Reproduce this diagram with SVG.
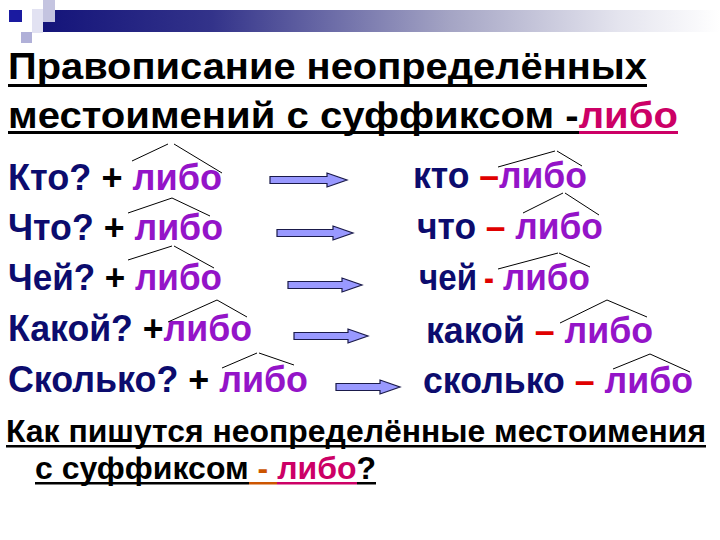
<svg xmlns="http://www.w3.org/2000/svg" width="720" height="540" viewBox="0 0 720 540">
<defs>
<linearGradient id="bar" x1="0" y1="0" x2="1" y2="0">
<stop offset="0" stop-color="#14147a"/>
<stop offset="0.25" stop-color="#33338a"/>
<stop offset="0.6" stop-color="#a4a4c4"/>
<stop offset="0.85" stop-color="#e4e4ee"/>
<stop offset="1" stop-color="#ffffff"/>
</linearGradient>
<style>
.t{font-family:"Liberation Sans",Arial,sans-serif;font-weight:bold}
.row{font-size:37px}
.nv{fill:#0c0c6e}
.pl{fill:#9414c8}
.rd{fill:#e00000}
.bk{fill:#000}
.hat{fill:none;stroke:#000;stroke-width:1}
.arr{fill:#9999ff;stroke:#1a1a4a;stroke-width:1.2}
</style>
</defs>
<rect width="720" height="540" fill="#fff"/>
<g id="decor">
<rect x="43" y="10" width="677" height="22" fill="url(#bar)"/>
<rect x="43" y="0" width="12" height="22" fill="#c4c4e0"/>
<rect x="32" y="9" width="11" height="24" fill="#e2e2f2"/>
<rect x="21" y="32" width="11" height="11" fill="#b0b0d8"/>
<rect x="9" y="10" width="13" height="12" fill="#1a1aa0"/>
</g>
<g id="title">
<text class="t" x="8" y="79" font-size="37" textLength="639" lengthAdjust="spacingAndGlyphs">Правописание неопределённых</text>
<rect x="8" y="84" width="639" height="3" fill="#000"/>
<text class="t" x="8" y="128" font-size="37" textLength="670" lengthAdjust="spacingAndGlyphs">местоимений с суффиксом -<tspan fill="#cc0066">либо</tspan></text>
<rect x="8" y="131" width="571" height="3" fill="#000"/>
<rect x="579" y="131" width="99" height="3" fill="#cc0066"/>
</g>
<g id="left-kto"><text class="t row" x="8" y="190" textLength="214" lengthAdjust="spacingAndGlyphs"><tspan class="nv">Кто?</tspan> <tspan class="bk">+</tspan> <tspan class="pl">либо</tspan></text>
<polyline class="hat" points="132,161 168,144"/><polyline class="hat" points="174,144 222,173"/></g>
<g id="left-chto"><text class="t row" x="8" y="240" textLength="215" lengthAdjust="spacingAndGlyphs"><tspan class="nv">Что?</tspan> <tspan class="bk">+</tspan> <tspan class="pl">либо</tspan></text>
<polyline class="hat" points="128,213 172,198 210,216"/></g>
<g id="left-chey"><text class="t row" x="8" y="290" textLength="214" lengthAdjust="spacingAndGlyphs"><tspan class="nv">Чей?</tspan> <tspan class="bk">+</tspan> <tspan class="pl">либо</tspan></text>
<polyline class="hat" points="128,260 172,246"/><polyline class="hat" points="174,246 214,268"/></g>
<g id="left-kakoy"><text class="t row" x="8" y="341" textLength="244" lengthAdjust="spacingAndGlyphs"><tspan class="nv">Какой?</tspan> <tspan class="bk">+</tspan><tspan class="pl">либо</tspan></text>
<polyline class="hat" points="168,322 217,300 247,317"/></g>
<g id="left-skolko"><text class="t row" x="8" y="392" textLength="300" lengthAdjust="spacingAndGlyphs"><tspan class="nv">Сколько?</tspan> <tspan class="bk">+</tspan> <tspan class="pl">либо</tspan></text>
<polyline class="hat" points="222,368 257,353"/><polyline class="hat" points="259,353 294,365"/></g>
<g id="connectors">
<path class="arr" d="M270,176.5 H327 V173 L347,180 L327,187 V183.5 H270 Z"/>
<path class="arr" d="M277,229.5 H333 V226 L353,233 L333,240 V236.5 H277 Z"/>
<path class="arr" d="M288,281.5 H342 V278 L362,285 L342,292 V288.5 H288 Z"/>
<path class="arr" d="M294,332.5 H348 V329 L368,336 L348,343 V339.5 H294 Z"/>
<path class="arr" d="M336,383.5 H380 V380 L400,387 L380,394 V390.5 H336 Z"/>
</g>
<g id="right-kto"><text class="t row" x="413" y="188" textLength="174" lengthAdjust="spacingAndGlyphs"><tspan class="nv">кто</tspan> <tspan class="rd">–</tspan><tspan class="pl">либо</tspan></text>
<polyline class="hat" points="498,167 555,151"/><polyline class="hat" points="557,151 582,166"/></g>
<g id="right-chto"><text class="t row" x="417" y="239" textLength="186" lengthAdjust="spacingAndGlyphs"><tspan class="nv">что</tspan> <tspan class="rd">–</tspan> <tspan class="pl">либо</tspan></text>
<polyline class="hat" points="523,213 563,193"/><polyline class="hat" points="565,193 599,215"/></g>
<g id="right-chey">
<text class="t row nv" x="419" y="290" textLength="58" lengthAdjust="spacingAndGlyphs">чей</text>
<text class="t row rd" x="484" y="290" textLength="10" lengthAdjust="spacingAndGlyphs">-</text>
<text class="t row pl" x="503" y="290" textLength="87" lengthAdjust="spacingAndGlyphs">либо</text>
<polyline class="hat" points="498,269 558,253"/><polyline class="hat" points="559,253 590,267"/></g>
<g id="right-kakoy"><text class="t row" x="426" y="343" textLength="227" lengthAdjust="spacingAndGlyphs"><tspan class="nv">какой</tspan> <tspan class="rd">–</tspan> <tspan class="pl">либо</tspan></text>
<polyline class="hat" points="560,323 607,300 647,317"/></g>
<g id="right-skolko"><text class="t row" x="423" y="393" textLength="270" lengthAdjust="spacingAndGlyphs"><tspan class="nv">сколько</tspan> <tspan class="rd">–</tspan> <tspan class="pl">либо</tspan></text>
<polyline class="hat" points="613,369 650,354 690,372"/></g>
<g id="question">
<text class="t" x="6" y="442" font-size="32" textLength="700" lengthAdjust="spacingAndGlyphs">Как пишутся неопределённые местоимения</text>
<rect x="6" y="445" width="700" height="2.5" fill="#000"/>
<text class="t" x="35" y="479" font-size="32" textLength="341" lengthAdjust="spacingAndGlyphs">с суффиксом <tspan fill="#cc5500">-</tspan> <tspan fill="#cc0066">либо</tspan>?</text>
<rect x="35" y="482" width="214" height="2.5" fill="#000"/>
<rect x="249" y="482" width="28" height="2.5" fill="#cc5500"/>
<rect x="277" y="482" width="80" height="2.5" fill="#cc0066"/>
<rect x="357" y="482" width="19" height="2.5" fill="#000"/>
</g>
</svg>
